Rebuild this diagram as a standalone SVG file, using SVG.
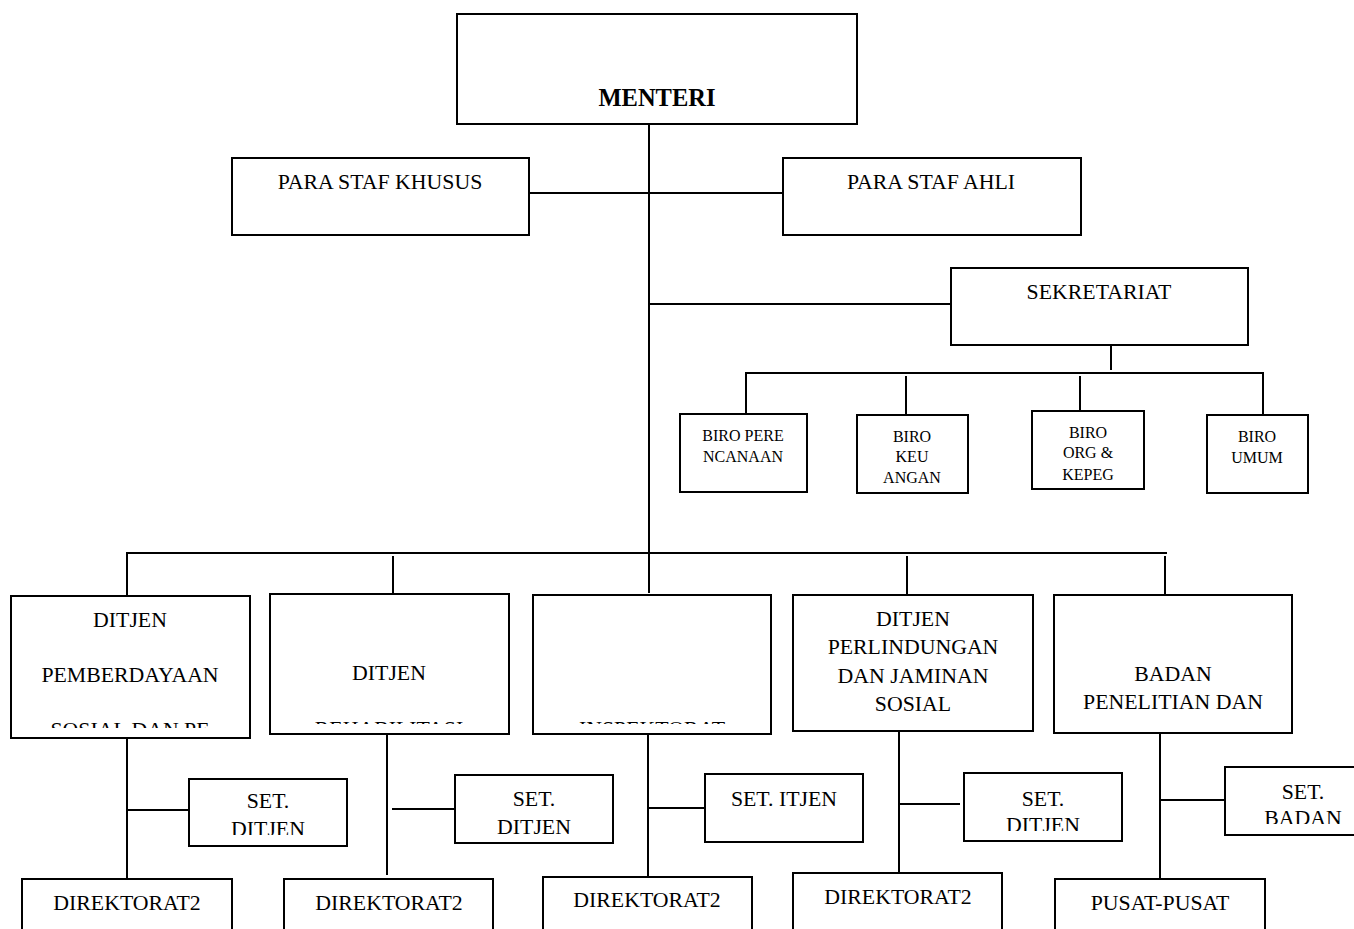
<svg xmlns="http://www.w3.org/2000/svg" width="1354" height="929" viewBox="0 0 1354 929">
<style>
.box{fill:#fff;stroke:#000;stroke-width:2}
.t{font-family:"Liberation Serif","Times New Roman",serif;font-size:21.8px;fill:#000;text-anchor:middle}
.s{font-size:16px}
.b{font-weight:bold;font-size:24.5px}
.ln{stroke:#000;stroke-width:2;fill:none}
</style>
<defs>
<clipPath id="c1"><rect x="11" y="596" width="239" height="132"/></clipPath>
<clipPath id="c2"><rect x="270" y="594" width="239" height="130"/></clipPath>
<clipPath id="c3"><rect x="533" y="595" width="238" height="129"/></clipPath>
<clipPath id="c5"><rect x="1054" y="595" width="238" height="129"/></clipPath>
<clipPath id="cs1"><rect x="189" y="779" width="158" height="56"/></clipPath>
<clipPath id="cs4"><rect x="964" y="773" width="158" height="58"/></clipPath>
<clipPath id="cs5"><rect x="1225" y="767" width="140" height="57"/></clipPath>
</defs>
<rect width="1354" height="929" fill="#fff"/>
<g id="connectors">
<path class="ln" d="M649 124V593"/>
<path class="ln" d="M529 193H783"/>
<path class="ln" d="M649 304H951"/>
<path class="ln" d="M1111 345V370"/>
<path class="ln" d="M746 414V373H1263V415"/>
<path class="ln" d="M906 376V415"/>
<path class="ln" d="M1080 376V424"/>
<path class="ln" d="M127 596V553H1167"/>
<path class="ln" d="M393 556V594"/>
<path class="ln" d="M907 556V595"/>
<path class="ln" d="M1165 556V595"/>
<path class="ln" d="M127 738V879"/>
<path class="ln" d="M127 810H189"/>
<path class="ln" d="M387 734V875"/>
<path class="ln" d="M392 809H455"/>
<path class="ln" d="M648 734V877"/>
<path class="ln" d="M648 808H705"/>
<path class="ln" d="M899 731V873"/>
<path class="ln" d="M899 804H960"/>
<path class="ln" d="M1160 733V879"/>
<path class="ln" d="M1160 800H1225"/>
</g>
<g id="menteri"><rect class="box" x="457" y="14" width="400" height="110"/><text class="t b" x="657" y="106">MENTERI</text></g>
<g id="staf-khusus"><rect class="box" x="232" y="158" width="297" height="77"/><text class="t" x="380" y="189">PARA STAF KHUSUS</text></g>
<g id="staf-ahli"><rect class="box" x="783" y="158" width="298" height="77"/><text class="t" x="931" y="189">PARA STAF AHLI</text></g>
<g id="sekretariat"><rect class="box" x="951" y="268" width="297" height="77"/><text class="t" x="1099" y="299">SEKRETARIAT</text></g>
<g id="biro-perencanaan"><rect class="box" x="680" y="414" width="127" height="78"/><text class="t s" x="743" y="441">BIRO PERE</text><text class="t s" x="743" y="462">NCANAAN</text></g>
<g id="biro-keuangan"><rect class="box" x="857" y="415" width="111" height="78"/><text class="t s" x="912" y="442">BIRO</text><text class="t s" x="912" y="462">KEU</text><text class="t s" x="912" y="483">ANGAN</text></g>
<g id="biro-org"><rect class="box" x="1032" y="411" width="112" height="78"/><text class="t s" x="1088" y="438">BIRO</text><text class="t s" x="1088" y="458">ORG &amp;</text><text class="t s" x="1088" y="480">KEPEG</text></g>
<g id="biro-umum"><rect class="box" x="1207" y="415" width="101" height="78"/><text class="t s" x="1257" y="442">BIRO</text><text class="t s" x="1257" y="463">UMUM</text></g>
<g id="ditjen-pemberdayaan"><rect class="box" x="11" y="596" width="239" height="142"/><g clip-path="url(#c1)"><text class="t" x="130" y="627">DITJEN</text><text class="t" x="130" y="682">PEMBERDAYAAN</text><text class="t" x="130" y="737">SOSIAL DAN PE</text></g></g>
<g id="ditjen-rehabilitasi"><rect class="box" x="270" y="594" width="239" height="140"/><g clip-path="url(#c2)"><text class="t" x="389" y="680">DITJEN</text><text class="t" x="389" y="736">REHABILITASI</text></g></g>
<g id="inspektorat"><rect class="box" x="533" y="595" width="238" height="139"/><g clip-path="url(#c3)"><text class="t" x="652" y="736">INSPEKTORAT</text></g></g>
<g id="ditjen-perlindungan"><rect class="box" x="793" y="595" width="240" height="136"/><text class="t" x="913" y="626">DITJEN</text><text class="t" x="913" y="654">PERLINDUNGAN</text><text class="t" x="913" y="683">DAN JAMINAN</text><text class="t" x="913" y="711">SOSIAL</text></g>
<g id="badan"><rect class="box" x="1054" y="595" width="238" height="138"/><g clip-path="url(#c5)"><text class="t" x="1173" y="681">BADAN</text><text class="t" x="1173" y="709">PENELITIAN DAN</text><text class="t" x="1173" y="738">PENGEMBANGAN</text></g></g>
<g id="set-ditjen-1"><rect class="box" x="189" y="779" width="158" height="67"/><g clip-path="url(#cs1)"><text class="t" x="268" y="808">SET.</text><text class="t" x="268" y="836">DITJEN</text></g></g>
<g id="set-ditjen-2"><rect class="box" x="455" y="775" width="158" height="68"/><text class="t" x="534" y="806">SET.</text><text class="t" x="534" y="834">DITJEN</text></g>
<g id="set-itjen"><rect class="box" x="705" y="774" width="158" height="68"/><text class="t" x="784" y="806">SET. ITJEN</text></g>
<g id="set-ditjen-3"><rect class="box" x="964" y="773" width="158" height="68"/><g clip-path="url(#cs4)"><text class="t" x="1043" y="806">SET.</text><text class="t" x="1043" y="832">DITJEN</text></g></g>
<g id="set-badan"><rect class="box" x="1225" y="767" width="140" height="68"/><g clip-path="url(#cs5)"><text class="t" x="1303" y="799">SET.</text><text class="t" x="1303" y="825">BADAN</text></g></g>
<g id="direktorat-1"><rect class="box" x="22" y="879" width="210" height="80"/><text class="t" x="127" y="910">DIREKTORAT2</text></g>
<g id="direktorat-2"><rect class="box" x="284" y="879" width="209" height="80"/><text class="t" x="389" y="910">DIREKTORAT2</text></g>
<g id="direktorat-3"><rect class="box" x="543" y="877" width="209" height="80"/><text class="t" x="647" y="907">DIREKTORAT2</text></g>
<g id="direktorat-4"><rect class="box" x="793" y="873" width="209" height="80"/><text class="t" x="898" y="904">DIREKTORAT2</text></g>
<g id="pusat-pusat"><rect class="box" x="1055" y="879" width="210" height="80"/><text class="t" x="1160" y="910">PUSAT-PUSAT</text></g>
</svg>
